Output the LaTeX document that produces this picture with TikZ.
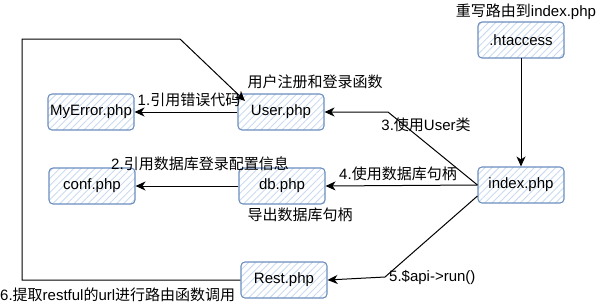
\documentclass[tikz,border=0pt]{standalone}
\usepackage{fontspec}
\setmainfont{Liberation Sans}
\newfontfamily\cjkfont{Noto Sans CJK SC}
\newcommand\zh[1]{{\cjkfont #1}}
\usetikzlibrary{arrows.meta,patterns.meta}
\definecolor{boxblue}{HTML}{6C8EBF}
\definecolor{hatchblue}{HTML}{C9DAF0}
\tikzset{
  phpbox/.style={draw=boxblue, line width=1.1pt, rounded corners=4pt,
    minimum width=86pt, minimum height=36pt, inner sep=0pt,
    pattern={Lines[angle=45,distance=5pt,line width=0.9pt]}, pattern color=hatchblue,
    font=\fontsize{15}{18}\selectfont},
  lbl/.style={inner sep=0pt, font=\fontsize{15}{18}\selectfont},
  link/.style={draw, line width=1pt, -{Stealth[length=10pt,width=9pt,inset=3pt]}}
}
\begin{document}
\begin{tikzpicture}[x=1pt,y=-1pt]
\useasboundingbox (0,0) rectangle (613,306);
% Boîtes
\node[phpbox] (htaccess) at (521,40) {.htaccess};
\node[phpbox] (myerror) at (91,112) {MyError.php};
\node[phpbox] (user) at (281,112) {User.php};
\node[phpbox] (conf) at (92,186) {conf.php};
\node[phpbox] (db) at (282,186) {db.php};
\node[phpbox] (index) at (521,185) {index.php};
\node[phpbox] (rest) at (284,280) {Rest.php};
% Points de passage
\coordinate (bend3) at (388,112);
\coordinate (bend5) at (385,277);
\coordinate (loopa) at (22,280);
\coordinate (loopb) at (22,39);
\coordinate (loopc) at (180,39);
\coordinate (userin) at (245,101);
% Flèches
\draw[link] (htaccess) -- (index);
\draw[link] (user) -- (myerror);
\draw[link] (db) -- (conf);
\draw[link] (index.west) -- (bend3) -- (user.east);
\draw[link] (index.west) -- (db.east);
\draw[link] ([yshift=-11pt]index.west) -- (bend5) -- (rest.east);
\draw[link] (rest.west) -- (loopa) -- (loopb) -- (loopc) -- (userin);
% Textes
\node[lbl] (lblhtaccess) at (526,12) {\zh{重写路由到}index.php};
\node[lbl] (lbluser) at (315,82) {\zh{用户注册和登录函数}};
\node[lbl] (lbldb) at (300,215) {\zh{导出数据库句柄}};
\node[lbl] (lbl1) at (189,100) {1.\zh{引用错误代码}};
\node[lbl] (lbl2) at (200,164) {2.\zh{引用数据库登录配置信息}};
\node[lbl] (lbl3) at (426,125) {3.\zh{使用}User\zh{类}};
\node[lbl] (lbl4) at (398,174) {4.\zh{使用数据库句柄}};
\node[lbl, anchor=west] (lbl5) at (389,277) {5.\$api->run()};
\node[lbl, anchor=west] (lbl6) at (0,295) {6.\zh{提取}restful\zh{的}url\zh{进行路由函数调用}};
\end{tikzpicture}
\end{document}
